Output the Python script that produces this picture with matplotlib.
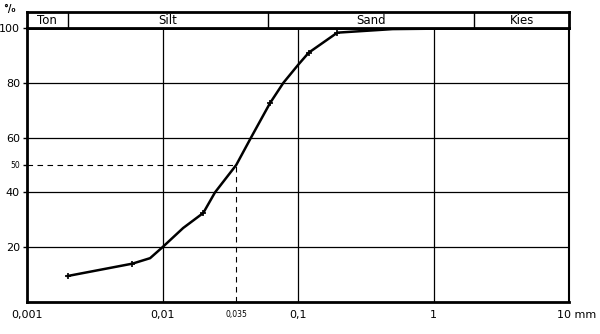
import matplotlib
matplotlib.use("Agg")
import matplotlib.pyplot as plt
import matplotlib.transforms as mtransforms
import numpy as np

# grain size (mm) and cumulative passing (%)
grain_mm = [0.002, 0.006, 0.0081, 0.01, 0.0142, 0.02, 0.0244, 0.035, 0.045, 0.062, 0.078, 0.1, 0.12, 0.195, 0.5, 3.0]
passing = [9.5, 14, 16, 20, 27, 32.5, 40, 50, 60, 72.5, 80, 86.5, 91, 98.3, 99.6, 100]
marker_mm = [0.002, 0.006, 0.02, 0.062, 0.12, 0.195]
marker_pct = [9.5, 14, 32.5, 72.5, 91, 98.3]

x_ticks = [0.001, 0.01, 0.035, 0.1, 1, 10]
x_labels = ["0,001", "0,01", "0,035", "0,1", "1", "10 mm"]
y_ticks = [20, 40, 50, 60, 80, 100]
y_labels = ["20", "40", "50", "60", "80", "100"]

classes = ["Ton", "Silt", "Sand", "Kies"]
class_bounds = [0.001, 0.002, 0.06, 2.0, 10.0]

d50 = 0.035

fig = plt.figure(figsize=(6, 3.34), dpi=100)
ax = fig.add_axes([27/600, 1-302/334, (569-27)/600, (302-28)/334])
ax.set_xscale("log")
ax.set_xlim(0.001, 10)
ax.set_ylim(0, 100)

for gx in [0.01, 0.1, 1]:
    ax.axvline(gx, color="black", lw=0.9, zorder=1)
for gy in [20, 40, 60, 80]:
    ax.axhline(gy, color="black", lw=0.9, zorder=1)

ax.plot([0.001, d50], [50, 50], color="black", lw=0.8, ls=(0, (5, 4)), zorder=1)
ax.plot([d50, d50], [0, 50], color="black", lw=0.8, ls=(0, (5, 4)), zorder=1)

ax.plot(grain_mm, passing, color="black", lw=1.8, zorder=3, solid_joinstyle="round")
ax.plot(marker_mm, marker_pct, ls="none", marker="+", ms=4, mew=1.2, color="black", zorder=4)

for s in ["left", "bottom", "top"]:
    ax.spines[s].set_linewidth(2)
ax.spines["right"].set_linewidth(1.5)

ax.set_xticks(x_ticks)
ax.set_xticklabels(x_labels)
ax.xaxis.set_minor_locator(matplotlib.ticker.NullLocator())
ax.set_yticks(y_ticks)
ax.set_yticklabels(y_labels)
ax.tick_params(axis="both", direction="out", length=3, width=1, labelsize=8, pad=2)
ax.tick_params(axis="x", length=0, pad=6)
for lbl in ax.get_xticklabels():
    if lbl.get_text() == "0,035":
        lbl.set_fontsize(5.5)
    if lbl.get_text() == "10 mm":
        lbl.set_horizontalalignment("left")
        lbl.set_transform(lbl.get_transform() + mtransforms.ScaledTranslation(-12/100, 0, fig.dpi_scale_trans))
for lbl in ax.get_yticklabels():
    if lbl.get_text() == "50":
        lbl.set_fontsize(5.5)

fig.text(3/600, 1-9/334, "°/₀", fontsize=7, fontweight="bold", va="center", ha="left")

# header band with soil classes
hx = fig.add_axes([27/600, 1-28/334, (569-27)/600, 16/334])
hx.set_xscale("log")
hx.set_xlim(0.001, 10)
hx.set_ylim(0, 1)
hx.set_xticks([])
hx.set_yticks([])
hx.minorticks_off()
for s in hx.spines.values():
    s.set_linewidth(2)
for b in class_bounds[1:-1]:
    hx.axvline(b, color="black", lw=1)
for i, name in enumerate(classes):
    lo, hi = class_bounds[i], class_bounds[i + 1]
    cx = np.sqrt(lo * hi)
    hx.text(cx, 0.45, name, ha="center", va="center", fontsize=8.5)

fig.savefig("out.png", dpi=100)
